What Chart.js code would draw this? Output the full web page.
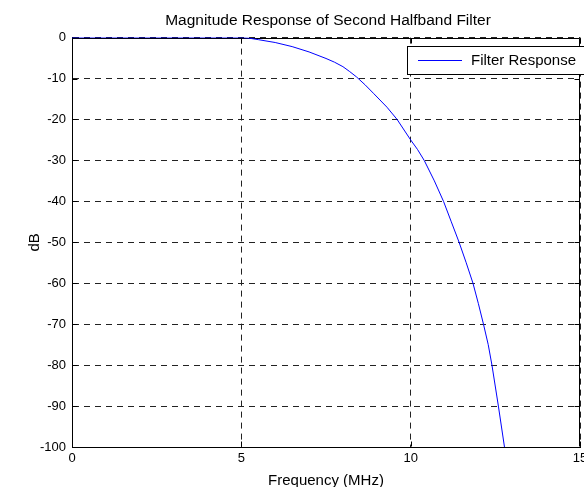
<!DOCTYPE html>
<html lang="en">
<head>
<meta charset="utf-8">
<title>Magnitude Response of Second Halfband Filter</title>
<script src="https://cdn.jsdelivr.net/npm/chart.js@4.4.1/dist/chart.umd.min.js"></script>
<style>
  html, body {
    margin: 0;
    padding: 0;
    overflow: hidden;
    background: #fff;
  }
  canvas { display: block; }
</style>
</head>
<body>
<canvas id="chartJSContainer" width="656" height="495"></canvas>
<script>
  // halfband filter magnitude response, frequency in MHz vs dB
  const freqMHz = [0, 5.0, 5.2, 5.5, 6.0, 6.5, 7.0, 7.5, 7.75, 8.0, 8.2, 8.4, 8.65, 8.9, 9.3, 9.6, 10.0, 10.2, 10.4,
                   10.7, 10.97, 11.2, 11.43, 11.64, 11.84, 12.0, 12.15, 12.29, 12.4, 12.59, 12.77];
  const magDb = [0, 0, -0.1, -0.5, -1.2, -2.2, -3.5, -5.1, -6.0, -7.1, -8.3, -9.6, -11.5, -13.6, -17.0, -20.0, -25.0, -27.3, -30.0,
                 -35.0, -40.0, -45.0, -50.0, -55.0, -60.0, -65.0, -70.0, -75.0, -80.0, -90.0, -100.0];
  const xRange = [0, 15];
  const yRange = [-100, 0];
  const seriesName = 'Filter Response';

  const FONT = 'Liberation Sans, Arial, Helvetica, sans-serif';
  const BLUE = '#0000ff';

  // solid box edges, matlab-style inner tick marks and the legend box
  const axesBox = {
    id: 'axesBox',
    beforeDatasetsDraw(chart) {
      const { ctx, chartArea: a, scales: { x, y } } = chart;
      const L = Math.round(a.left) + 0.5, R = Math.round(a.right) - 0.5;
      const T = Math.round(a.top) + 0.5, B = Math.round(a.bottom) - 0.5;
      ctx.save();
      ctx.strokeStyle = '#000';
      ctx.lineWidth = 1;
      ctx.beginPath();
      ctx.moveTo(L, T); ctx.lineTo(R, T); ctx.lineTo(R, B);
      x.ticks.forEach(t => {
        const px = Math.round(x.getPixelForValue(t.value)) + 0.5;
        ctx.moveTo(px, B); ctx.lineTo(px, B - 5);
        ctx.moveTo(px, T); ctx.lineTo(px, T + 5);
      });
      y.ticks.forEach(t => {
        const py = Math.round(y.getPixelForValue(t.value)) + 0.5;
        ctx.moveTo(L, py); ctx.lineTo(L + 5, py);
        ctx.moveTo(R, py); ctx.lineTo(R - 5, py);
      });
      ctx.stroke();
      ctx.restore();
    },
    afterDraw(chart) {
      const { ctx } = chart;
      const bx = 407.5, by = 46.5, bw = 200, bh = 28;
      ctx.save();
      ctx.fillStyle = '#fff';
      ctx.fillRect(bx, by, bw, bh);
      ctx.strokeStyle = '#000';
      ctx.lineWidth = 1;
      ctx.strokeRect(bx, by, bw, bh);
      ctx.strokeStyle = BLUE;
      ctx.beginPath();
      ctx.moveTo(418, 60.5);
      ctx.lineTo(462, 60.5);
      ctx.stroke();
      ctx.fillStyle = '#000';
      ctx.font = '15px ' + FONT;
      ctx.textBaseline = 'middle';
      ctx.fillText(seriesName, 471, 61);
      ctx.restore();
    }
  };

  const data = {
    datasets: [{
      label: seriesName,
      data: freqMHz.map((f, i) => ({ x: f, y: magDb[i] })),
      borderColor: BLUE,
      borderWidth: 1,
      pointRadius: 0,
      fill: false,
      tension: 0
    }]
  };

  const config = {
    type: 'line',
    data: data,
    options: {
      responsive: false,
      animation: false,
      layout: { padding: 0 },
      plugins: {
        legend: { display: false },
        tooltip: { enabled: false },
        title: {
          display: true,
          text: 'Magnitude Response of Second Halfband Filter',
          color: '#000',
          font: { family: FONT, size: 15.5, weight: 'normal' },
          padding: { top: 11, bottom: 8 }
        }
      },
      scales: {
        x: {
          type: 'linear',
          min: xRange[0],
          max: xRange[1],
          afterFit: s => { s.height = 48; },
          ticks: { stepSize: 5, color: '#000', font: { family: FONT, size: 13 }, padding: 4, maxRotation: 0 },
          grid: { color: '#222', drawTicks: false },
          border: { display: true, color: '#000', dash: [6, 5] },
          title: {
            display: true,
            text: 'Frequency (MHz)',
            color: '#000',
            font: { family: FONT, size: 15 },
            padding: { top: 0, bottom: 5 }
          }
        },
        y: {
          min: yRange[0],
          max: yRange[1],
          afterFit: s => { s.width = 72; },
          ticks: { stepSize: 10, color: '#000', font: { family: FONT, size: 13 }, padding: 6 },
          grid: { color: '#222', drawTicks: false },
          border: { display: true, color: '#000', dash: [6, 5] },
          title: {
            display: true,
            text: 'dB',
            color: '#000',
            font: { family: FONT, size: 15 },
            padding: { top: 26, bottom: 0 }
          }
        },
        // empty right-hand axis that only reserves the margin beside the plot
        yMargin: {
          type: 'linear',
          position: 'right',
          min: 0,
          max: 1,
          afterFit: s => { s.width = 76; },
          ticks: { display: false },
          grid: { display: false, drawTicks: false },
          border: { display: false }
        }
      }
    },
    plugins: [axesBox]
  };

  const ctx = document.getElementById('chartJSContainer').getContext('2d');
  const responseChart = new Chart(ctx, config);
</script>
</body>
</html>
